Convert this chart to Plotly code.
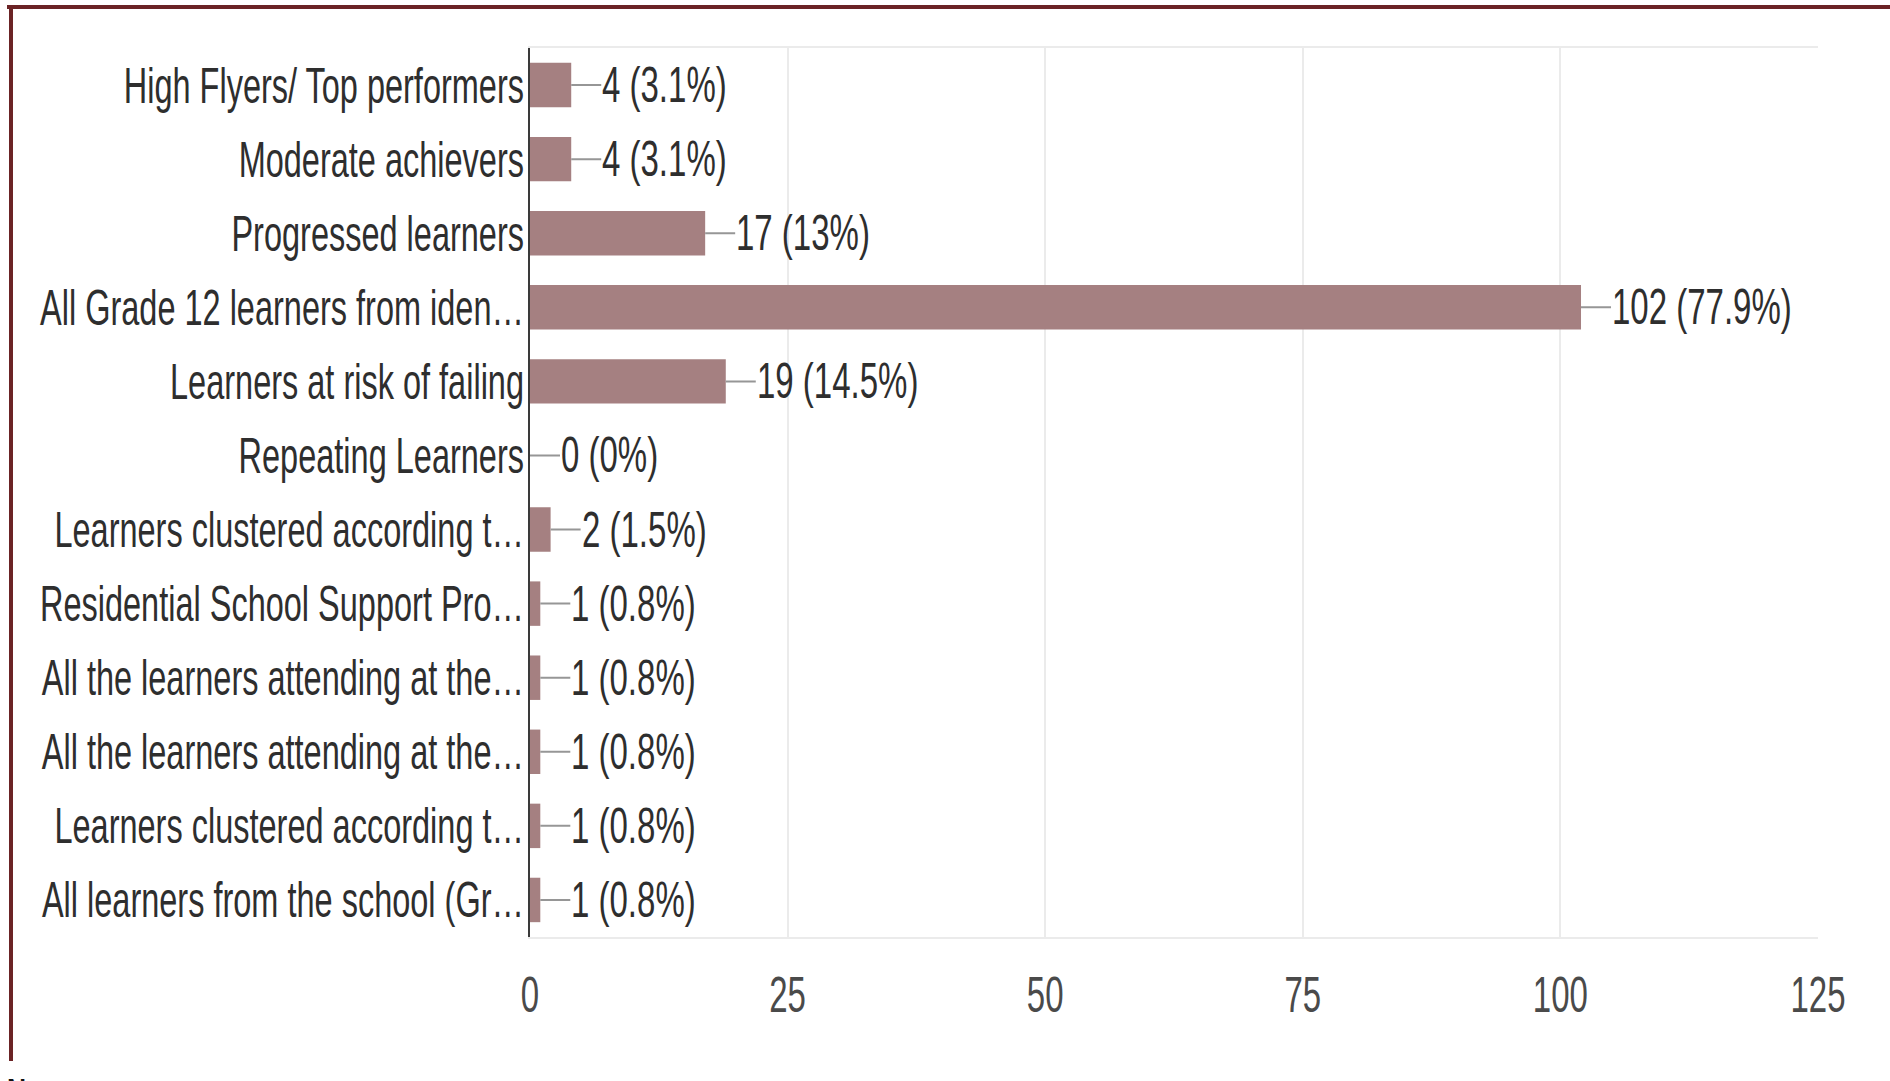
import plotly.graph_objects as go

# Survey question: which learners were targeted (checkbox responses, 131 respondents)
categories = [
    "High Flyers/ Top performers",
    "Moderate achievers",
    "Progressed learners",
    "All Grade 12 learners from iden\u2026",
    "Learners at risk of failing",
    "Repeating Learners",
    "Learners clustered according t\u2026",
    "Residential School Support Pro\u2026",
    "All the learners attending at the\u2026",
    "All the learners attending at the\u2026",
    "Learners clustered according t\u2026",
    "All learners from the school (Gr\u2026",
]
counts = [4, 4, 17, 102, 19, 0, 2, 1, 1, 1, 1, 1]
percents = [3.1, 3.1, 13, 77.9, 14.5, 0, 1.5, 0.8, 0.8, 0.8, 0.8, 0.8]
x_ticks = [0, 25, 50, 75, 100, 125]

W, H = 1890, 1081
M_L, M_R, M_T, M_B = 530, 72, 48, 144
PW, PH = W - M_L - M_R, H - M_T - M_B

FONT = "Liberation Sans, Arial, Helvetica, sans-serif"
BAR = "#a58081"
TXT = "#2e2e2e"
FRAME = "#6b2325"


def px_x(px):
    return (px - M_L) / PW


def px_y(py):
    return (H - M_B - py) / PH


def fmt_pct(p):
    s = f"{p:.1f}"
    return s[:-2] if s.endswith(".0") else s


positions = list(range(len(categories)))

fig = go.Figure(
    go.Bar(
        x=counts,
        y=positions,
        orientation="h",
        width=0.6,
        marker=dict(color=BAR, line=dict(width=0)),
        hoverinfo="skip",
    )
)

# value labels with a short leader line from the end of each bar
for pos, c, p in zip(positions, counts, percents):
    fig.add_annotation(
        x=c, y=pos, xref="x", yref="y",
        text=f"{c} ({fmt_pct(p)}%)",
        showarrow=True, arrowhead=0, arrowwidth=2, arrowcolor="#969696",
        ax=30, ay=0, standoff=0, startstandoff=0,
        xanchor="left", align="left", borderpad=0,
        font=dict(family=FONT, size=50, color=TXT),
    )

# page frame around the chart
fig.add_shape(type="line", xref="paper", yref="paper",
              x0=px_x(7), x1=px_x(W + 5), y0=px_y(7), y1=px_y(7),
              line=dict(color=FRAME, width=4), layer="above")
fig.add_shape(type="line", xref="paper", yref="paper",
              x0=px_x(11), x1=px_x(11), y0=px_y(5), y1=px_y(1061),
              line=dict(color=FRAME, width=4), layer="above")

# heading of the next section on the page, cut by the bottom edge
fig.add_annotation(
    x=px_x(0), y=px_y(1069), xref="paper", yref="paper",
    text="<b>N</b>", showarrow=False, xanchor="left", yanchor="top",
    font=dict(family=FONT, size=40, color="#111111"),
)

fig.update_layout(
    width=W, height=H,
    margin=dict(l=M_L, r=M_R, t=M_T, b=M_B, pad=0, autoexpand=False),
    paper_bgcolor="white", plot_bgcolor="white",
    showlegend=False,
    bargap=0.4,
    font=dict(family=FONT, size=50, color=TXT),
    xaxis=dict(
        range=[0, 125], tickvals=x_ticks, ticktext=[str(v) for v in x_ticks],
        showgrid=True, gridcolor="#ebebeb", gridwidth=2,
        zeroline=False, showline=True, linecolor="#ebebeb", linewidth=2, mirror=True,
        ticks="", ticklabelstandoff=13,
        tickfont=dict(family=FONT, size=50, color="#4a4a4a"),
        automargin=False, fixedrange=True,
    ),
    yaxis=dict(
        range=[len(categories) - 0.5, -0.5],
        tickvals=positions, ticktext=categories,
        showgrid=False, zeroline=False,
        showline=True, linecolor="#3a3a3a", linewidth=2,
        ticks="", ticklabelstandoff=-6,
        tickfont=dict(family=FONT, size=50, color=TXT),
        automargin=False, fixedrange=True,
    ),
)

# Narrow the glyphs horizontally, pivoting on each label's own anchor point.
squeeze_js = """
var gd = document.getElementById('{plot_id}');
function squeezeFactor(t) {
  return t.closest('g.ytick') ? 0.65 : 0.66;
}
function squeezeText() {
  var nodes = gd.querySelectorAll('g.xtick text, g.ytick text, text.annotation-text');
  nodes.forEach(function (t) {
    var tr = t.getAttribute('transform') || '';
    if (tr.indexOf(' scale(0.6') !== -1) return;
    var x = parseFloat(t.getAttribute('x')) || 0;
    var s = squeezeFactor(t);
    t.setAttribute('transform', tr + ' translate(' + x + ',0) scale(' + s + ',1) translate(' + (-x) + ',0)');
  });
}
squeezeText();
gd.on('plotly_afterplot', squeezeText);
"""

fig.write_html("out.html", config={"displayModeBar": False, "responsive": False},
               post_script=squeeze_js)
